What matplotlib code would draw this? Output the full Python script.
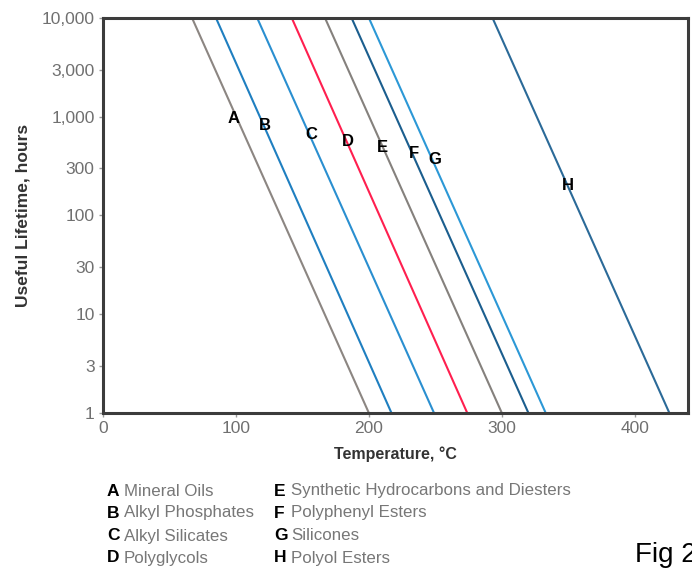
import matplotlib
matplotlib.use("Agg")
import matplotlib.pyplot as plt
import numpy as np
from matplotlib.ticker import FixedLocator, FuncFormatter, NullLocator

letters = ["A", "B", "C", "D", "E", "F", "G", "H"]
names = ["Mineral Oils", "Alkyl Phosphates", "Alkyl Silicates", "Polyglycols",
         "Synthetic Hydrocarbons and Diesters", "Polyphenyl Esters", "Silicones", "Polyol Esters"]
# temperature (deg C) at 10,000 h and at 1 h
temp_at_10000 = [67, 85, 116, 142, 167, 187, 200, 293]
temp_at_1 = [200, 217, 249, 274, 300, 320, 333, 426]
life_ends = [10000, 1]
colors = ["#8c8682", "#1f7fc0", "#2a8fd0", "#ff1f4f", "#85817d", "#1b5e8e", "#2c98d6", "#2b6a98"]
# label positions
label_x = [98.5, 122, 157, 184, 210, 234, 249.6, 350]
label_y = [971, 806, 668, 555, 483, 420, 365, 199]

yticks = [1, 3, 10, 30, 100, 300, 1000, 3000, 10000]
xticks = [0, 100, 200, 300, 400]

sans = ["Liberation Sans", "DejaVu Sans"]

fig = plt.figure(figsize=(6.92, 5.71), dpi=100)
ax = fig.add_axes([0.1488, 0.2767, 0.9942 - 0.1488, 0.9685 - 0.2767])

for i in range(len(letters)):
    ax.plot([temp_at_10000[i], temp_at_1[i]], life_ends, color=colors[i], lw=1.5,
            solid_capstyle="butt")
    ax.text(label_x[i], label_y[i], letters[i], fontsize=12, fontweight="bold",
            color="black", ha="center", va="center", family=sans)

ax.set_yscale("log")
ax.set_xlim(0, 440)
ax.set_ylim(1, 10000)
ax.yaxis.set_major_locator(FixedLocator(yticks))
ax.yaxis.set_minor_locator(NullLocator())
ax.yaxis.set_major_formatter(FuncFormatter(lambda v, p: f"{int(round(v)):,}"))
ax.xaxis.set_major_locator(FixedLocator(xticks))

for s in ax.spines.values():
    s.set_color("#3c3c3c")
    s.set_linewidth(2.2)

ax.tick_params(axis="both", which="major", length=3, width=1, color="#999999",
               labelcolor="#707070", labelsize=12.5, pad=3)
for lab in ax.get_xticklabels() + ax.get_yticklabels():
    lab.set_family(sans)

ax.set_xlabel("Temperature, °C", fontsize=11.5, fontweight="bold", color="#333333",
              family=sans, labelpad=7)
ax.set_ylabel("Useful Lifetime, hours", fontsize=12.5, fontweight="bold", color="#333333",
              family=sans, labelpad=8)

# legend block
col_x = [107, 274]
row_y = [491, 513, 536, 558]
W, H = 692, 571
for i in range(len(letters)):
    c = i // 4
    r = i % 4
    x = col_x[c] / W
    y = 1 - row_y[r] / H
    fig.text(x, y, letters[i], fontsize=12.5, fontweight="bold", color="black",
             va="center", ha="left", family=sans)
    fig.text(x + 17 / W, y, names[i], fontsize=12.2, color="#777777",
             va="center", ha="left", family=sans)

fig.text(635 / W, 1 - 555 / H, "Fig 2", fontsize=20, color="black", va="center",
         ha="left", family=sans)

fig.savefig("out.png", dpi=100)
